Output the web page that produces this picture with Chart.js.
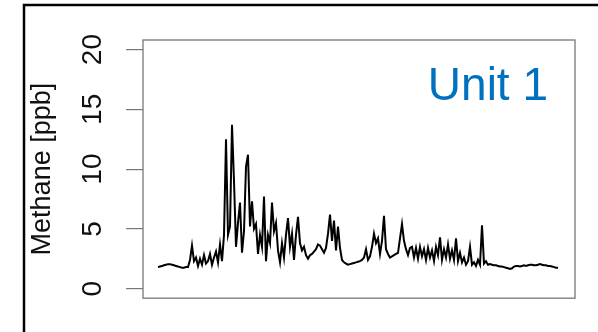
<!DOCTYPE html>
<html>
<head>
<meta charset="utf-8">
<script src="https://cdn.jsdelivr.net/npm/chart.js@4/dist/chart.umd.min.js"></script>
<style>
  html, body { margin: 0; padding: 0; background: #fff; }
  #wrap { width: 598px; height: 332px; }
</style>
</head>
<body>
<div id="wrap"><canvas id="methane-chart" width="598" height="332"></canvas></div>
<script>
// methane readings, one sample per step, left to right
const methane = [
    // quiet start
    1.8, 1.85, 1.9, 1.95, 2.0, 2.05, 2.05, 2.0, 1.95, 1.9, 1.85, 1.8, 1.75, 1.75, 1.8, 1.8,
    // first small bumps
    2.4, 3.6, 2.3, 2.6, 1.9, 2.5, 2.0, 2.8, 2.1, 2.3, 2.9, 2.0, 2.6, 3.1, 2.2, 3.7, 2.3,
    // big peaks
    4.5, 12.5, 4.5, 5.2, 13.7, 9.0, 3.5, 5.5, 7.2, 3.0, 4.8, 10.2, 11.2, 5.2, 7.3, 5.0, 5.4, 2.9, 4.5,
    // decaying activity
    3.5, 7.7, 2.3, 4.5, 3.8, 7.2, 4.8, 5.5, 3.2, 2.2, 3.8, 2.6, 4.5, 5.9, 3.5, 4.6, 2.4, 4.5, 6.0, 3.8,
    3.2, 3.5, 2.8, 2.5, 2.8, 2.9, 3.1, 3.3, 3.7, 3.6, 3.3, 3.0, 3.4, 4.6, 6.2, 4.0, 5.7, 3.2, 5.2, 3.4,
    2.4, 2.2,
    // calm stretch
    2.1, 2.0, 2.05, 2.1, 2.15, 2.2, 2.25, 2.3, 2.4, 2.6, 3.3, 2.4, 2.7,
    // second group
    3.5, 4.6, 3.8, 4.2, 2.9, 4.0, 6.1, 3.3, 2.9, 2.6, 2.7, 2.8, 2.9, 3.0, 4.2, 5.4, 4.0, 3.3, 2.8, 3.4,
    // noisy block
    3.5, 2.6, 3.4, 2.5, 3.5, 2.7, 3.3, 2.4, 3.4, 2.6, 3.2, 2.3, 3.5, 2.8, 4.3, 2.4, 3.3, 2.6, 3.7, 2.5,
    3.2, 2.4, 4.2, 2.3, 3.0, 2.2, 2.6, 2.0, 2.3, 3.5, 2.0, 2.2, 1.9, 2.4, 2.0, 5.3, 2.1, 2.3,
    // quiet end
    2.0, 2.05, 2.0, 1.95, 1.95, 1.9, 1.85, 1.85, 1.8, 1.75, 1.7, 1.65, 1.7, 1.85, 1.9, 1.9, 1.85, 1.9,
    1.95, 1.9, 1.95, 2.0, 2.0, 1.95, 1.95, 2.0, 2.05, 2.0, 1.95, 1.95, 1.9, 1.9, 1.85, 1.8, 1.75, 1.75
];
const sampleIndex = methane.map((v, i) => i);
const yTicks = [0, 5, 10, 15, 20];
const yTitle = 'Methane [ppb]';
const unitLabel = 'Unit 1';

const FONT = "'Liberation Sans', Arial, Helvetica, sans-serif";

const framePlugin = {
    id: 'frame',
    beforeDraw(chart) {
        const ctx = chart.ctx;
        ctx.save();
        ctx.fillStyle = '#fff';
        ctx.fillRect(0, 0, chart.width, chart.height);
        // outer slide border
        ctx.strokeStyle = '#000';
        ctx.lineWidth = 2.5;
        ctx.beginPath();
        ctx.moveTo(24, chart.height + 2);
        ctx.lineTo(24, 5);
        ctx.lineTo(chart.width + 2, 5);
        ctx.stroke();
        ctx.restore();
    },
    afterDraw(chart) {
        const ctx = chart.ctx;
        const a = chart.chartArea;
        ctx.save();
        ctx.strokeStyle = '#777';
        ctx.lineWidth = 1.3;
        ctx.strokeRect(a.left, a.top, a.right - a.left, a.bottom - a.top);
        ctx.fillStyle = '#0070C0';
        ctx.font = '46px ' + FONT;
        ctx.textAlign = 'right';
        ctx.textBaseline = 'alphabetic';
        ctx.fillText(unitLabel, 548, 100);
        ctx.restore();
    }
};

new Chart(document.getElementById('methane-chart').getContext('2d'), {
    type: 'line',
    data: {
        datasets: [{
            data: sampleIndex.map((x, i) => ({ x: x, y: methane[i] })),
            borderColor: '#000',
            borderWidth: 2,
            pointRadius: 0,
            tension: 0,
            fill: false
        }]
    },
    options: {
        responsive: false,
        animation: false,
        events: [],
        layout: { padding: { left: 0, top: 40, right: 23, bottom: 32 } },
        plugins: { legend: { display: false }, tooltip: { enabled: false } },
        scales: {
            x: {
                type: 'linear',
                display: false,
                min: -7.5,
                max: 208.5
            },
            y: {
                min: -0.8,
                max: 20.8,
                afterBuildTicks(scale) {
                    scale.ticks = yTicks.map(v => ({ value: v }));
                },
                afterFit(scale) {
                    scale.width = 143;
                },
                border: { display: false },
                grid: {
                    drawOnChartArea: false,
                    drawTicks: true,
                    tickLength: 17,
                    color: '#777',
                    lineWidth: 1.2
                },
                ticks: {
                    minRotation: 90,
                    maxRotation: 90,
                    crossAlign: 'center',
                    padding: 17,
                    color: '#111',
                    font: { family: FONT, size: 28 }
                },
                title: {
                    display: true,
                    text: yTitle,
                    color: '#111',
                    padding: { top: 26, bottom: 0 },
                    font: { family: FONT, size: 27 }
                }
            }
        }
    },
    plugins: [framePlugin]
});
</script>
</body>
</html>
